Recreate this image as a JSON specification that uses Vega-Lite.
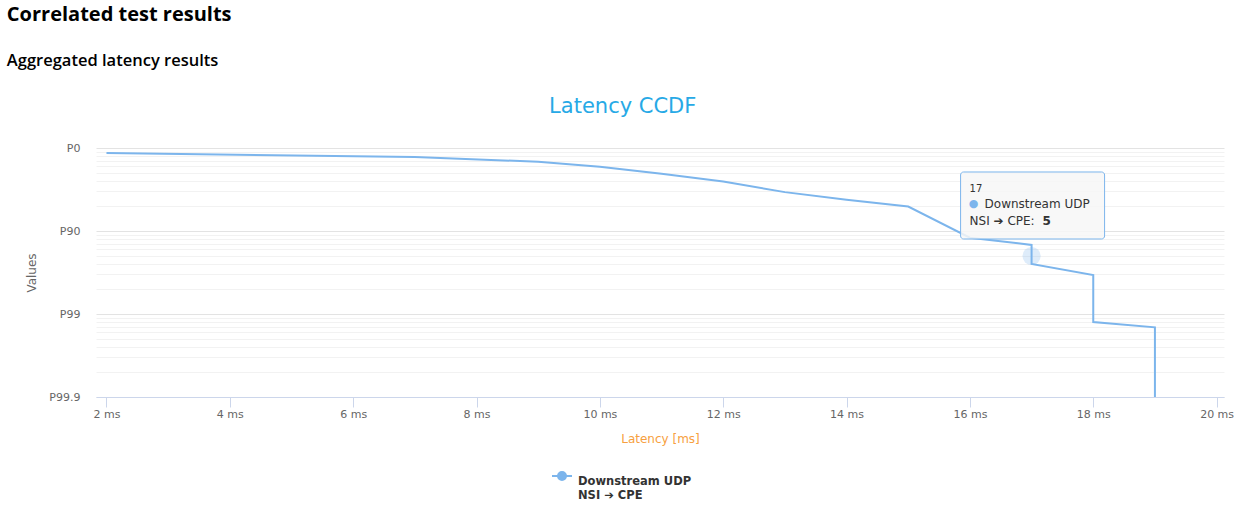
{
  "$schema": "https://vega.github.io/schema/vega-lite/v6.json",
  "background": "white",
  "padding": {"left": 6, "top": 4, "right": 0, "bottom": 0},
  "autosize": {"type": "pad"},
  "title": {
    "text": "Correlated test results",
    "subtitle": "Aggregated latency results",
    "anchor": "start",
    "frame": "bounds",
    "dx": -19,
    "font": "Open Sans",
    "fontSize": 20,
    "fontWeight": "bold",
    "color": "#000000",
    "subtitleFont": "Open Sans",
    "subtitleFontSize": 16.5,
    "subtitleFontWeight": 600,
    "subtitleColor": "#000000",
    "subtitlePadding": 28,
    "offset": 27
  },
  "datasets": {
    "ccdf": [
      {"i": 0, "latency": 2, "value": 87, "series": "Downstream UDP|NSI ➔ CPE"},
      {"i": 1, "latency": 7, "value": 77.8, "series": "Downstream UDP|NSI ➔ CPE"},
      {"i": 2, "latency": 9, "value": 68.3, "series": "Downstream UDP|NSI ➔ CPE"},
      {"i": 3, "latency": 10, "value": 59.4, "series": "Downstream UDP|NSI ➔ CPE"},
      {"i": 4, "latency": 11, "value": 49, "series": "Downstream UDP|NSI ➔ CPE"},
      {"i": 5, "latency": 12, "value": 39.5, "series": "Downstream UDP|NSI ➔ CPE"},
      {"i": 6, "latency": 13, "value": 29.4, "series": "Downstream UDP|NSI ➔ CPE"},
      {"i": 7, "latency": 14, "value": 23.8, "series": "Downstream UDP|NSI ➔ CPE"},
      {"i": 8, "latency": 15, "value": 19.7, "series": "Downstream UDP|NSI ➔ CPE"},
      {"i": 9, "latency": 16, "value": 8.3, "series": "Downstream UDP|NSI ➔ CPE"},
      {"i": 10, "latency": 17, "value": 6.8, "series": "Downstream UDP|NSI ➔ CPE"},
      {"i": 11, "latency": 17, "value": 5, "series": "Downstream UDP|NSI ➔ CPE"},
      {"i": 12, "latency": 17, "value": 4, "series": "Downstream UDP|NSI ➔ CPE"},
      {"i": 13, "latency": 18, "value": 2.95, "series": "Downstream UDP|NSI ➔ CPE"},
      {"i": 14, "latency": 18, "value": 0.8, "series": "Downstream UDP|NSI ➔ CPE"},
      {"i": 15, "latency": 19, "value": 0.69, "series": "Downstream UDP|NSI ➔ CPE"},
      {"i": 16, "latency": 19, "value": 0.1, "series": "Downstream UDP|NSI ➔ CPE"}
    ],
    "hover": [
      {"latency": 17, "value": 5, "name": "Downstream UDP", "dir": "NSI ➔ CPE:", "bullet": "●"}
    ]
  },
  "resolve": {"scale": {"color": "independent"}},
  "vconcat": [
    {
      "width": 1128,
      "height": 249,
      "title": {
        "text": "Latency CCDF",
        "anchor": "middle",
        "frame": "bounds",
        "dx": -7,
        "font": "DejaVu Sans",
        "fontSize": 21,
        "fontWeight": "normal",
        "color": "#27a9e6",
        "offset": 25
      },
      "layer": [
        {
          "data": {"name": "ccdf"},
          "mark": {"type": "line", "strokeWidth": 2, "interpolate": "linear"},
          "encoding": {
            "x": {
              "field": "latency",
              "type": "quantitative",
              "scale": {"domain": [1.83, 20.12], "nice": false, "zero": false},
              "axis": {
                "values": [2, 4, 6, 8, 10, 12, 14, 16, 18, 20],
                "labelExpr": "datum.value + ' ms'",
                "grid": false,
                "tickColor": "#ccd6eb",
                "domainColor": "#ccd6eb",
                "tickSize": 10,
                "labelPadding": 1,
                "labelFont": "DejaVu Sans",
                "labelFontSize": 11,
                "labelColor": "#666666",
                "title": "Latency [ms]",
                "titleFont": "DejaVu Sans",
                "titleFontSize": 12,
                "titleFontWeight": "normal",
                "titleColor": "#f7a040",
                "titlePadding": 14
              }
            },
            "y": {
              "field": "value",
              "type": "quantitative",
              "scale": {"type": "log", "domain": [0.1, 100], "nice": false},
              "axis": {
                "values": [100, 90, 80, 70, 60, 50, 40, 30, 20, 10, 9, 8, 7, 6, 5, 4, 3, 2, 1, 0.9, 0.8, 0.7, 0.6, 0.5, 0.4, 0.3, 0.2, 0.1],
                "labelExpr": "datum.value == 100 ? 'P0' : datum.value == 10 ? 'P90' : datum.value == 1 ? 'P99' : datum.value == 0.1 ? 'P99.9' : ''",
                "labelOverlap": false,
                "ticks": false,
                "domain": false,
                "grid": true,
                "gridColor": {
                  "condition": {"test": "datum.value == 100 || datum.value == 10 || datum.value == 1 || datum.value == 0.1", "value": "#e3e3e3"},
                  "value": "#f2f2f2"
                },
                "labelPadding": 16,
                "labelFont": "DejaVu Sans",
                "labelFontSize": 11,
                "labelColor": "#666666",
                "title": "Values",
                "titleFont": "DejaVu Sans",
                "titleFontSize": 12,
                "titleFontWeight": "normal",
                "titleColor": "#666666",
                "titlePadding": 10
              }
            },
            "order": {"field": "i", "type": "quantitative"},
            "color": {
              "field": "series",
              "type": "nominal",
              "scale": {"range": ["#7cb5ec"]},
              "legend": {
                "orient": "none",
                "legendX": 455,
                "legendY": 317,
                "title": null,
                "labelExpr": "split(datum.label, '|')",
                "labelFont": "DejaVu Sans",
                "labelFontSize": 11.5,
                "labelFontWeight": "bold",
                "labelColor": "#333333",
                "labelBaseline": "top",
                "labelOffset": 5,
                "symbolType": "M-1,0L1,0M-0.4,0A0.4,0.4,0,1,1,0.4,0A0.4,0.4,0,1,1,-0.4,0Z",
                "symbolSize": 400,
                "symbolStrokeWidth": 2,
                "symbolFillColor": "#7cb5ec",
                "symbolOpacity": 1
              }
            }
          }
        },
        {
          "data": {"name": "hover"},
          "mark": {"type": "point", "filled": true, "size": 330, "color": "#7cb5ec", "opacity": 0.25},
          "encoding": {
            "x": {"field": "latency", "type": "quantitative"},
            "y": {"field": "value", "type": "quantitative"}
          }
        },
        {
          "data": {"name": "hover"},
          "mark": {"type": "rect", "width": 144, "height": 67, "xOffset": 1, "yOffset": -50.5, "fill": "#f7f7f7", "fillOpacity": 0.85, "stroke": "#7cb5ec", "strokeWidth": 1, "cornerRadius": 3},
          "encoding": {
            "x": {"field": "latency", "type": "quantitative"},
            "y": {"field": "value", "type": "quantitative"}
          }
        },
        {
          "data": {"name": "hover"},
          "mark": {"type": "text", "align": "left", "baseline": "middle", "dx": -62, "dy": -67, "font": "DejaVu Sans", "fontSize": 10, "color": "#333333"},
          "encoding": {
            "x": {"field": "latency", "type": "quantitative"},
            "y": {"field": "value", "type": "quantitative"},
            "text": {"field": "latency", "type": "quantitative"}
          }
        },
        {
          "data": {"name": "hover"},
          "mark": {"type": "text", "align": "center", "baseline": "middle", "dx": -58, "dy": -52, "font": "DejaVu Sans", "fontSize": 11, "color": "#7cb5ec"},
          "encoding": {
            "x": {"field": "latency", "type": "quantitative"},
            "y": {"field": "value", "type": "quantitative"},
            "text": {"field": "bullet", "type": "nominal"}
          }
        },
        {
          "data": {"name": "hover"},
          "mark": {"type": "text", "align": "left", "baseline": "middle", "dx": -47, "dy": -52, "font": "DejaVu Sans", "fontSize": 12, "color": "#333333"},
          "encoding": {
            "x": {"field": "latency", "type": "quantitative"},
            "y": {"field": "value", "type": "quantitative"},
            "text": {"field": "name", "type": "nominal"}
          }
        },
        {
          "data": {"name": "hover"},
          "mark": {"type": "text", "align": "left", "baseline": "middle", "dx": -62, "dy": -35, "font": "DejaVu Sans", "fontSize": 12, "color": "#333333"},
          "encoding": {
            "x": {"field": "latency", "type": "quantitative"},
            "y": {"field": "value", "type": "quantitative"},
            "text": {"field": "dir", "type": "nominal"}
          }
        },
        {
          "data": {"name": "hover"},
          "mark": {"type": "text", "align": "left", "baseline": "middle", "dx": 11, "dy": -35, "font": "DejaVu Sans", "fontSize": 12, "fontWeight": "bold", "color": "#333333"},
          "encoding": {
            "x": {"field": "latency", "type": "quantitative"},
            "y": {"field": "value", "type": "quantitative"},
            "text": {"field": "value", "type": "quantitative"}
          }
        }
      ]
    }
  ],
  "config": {
    "view": {"stroke": null}
  }
}
